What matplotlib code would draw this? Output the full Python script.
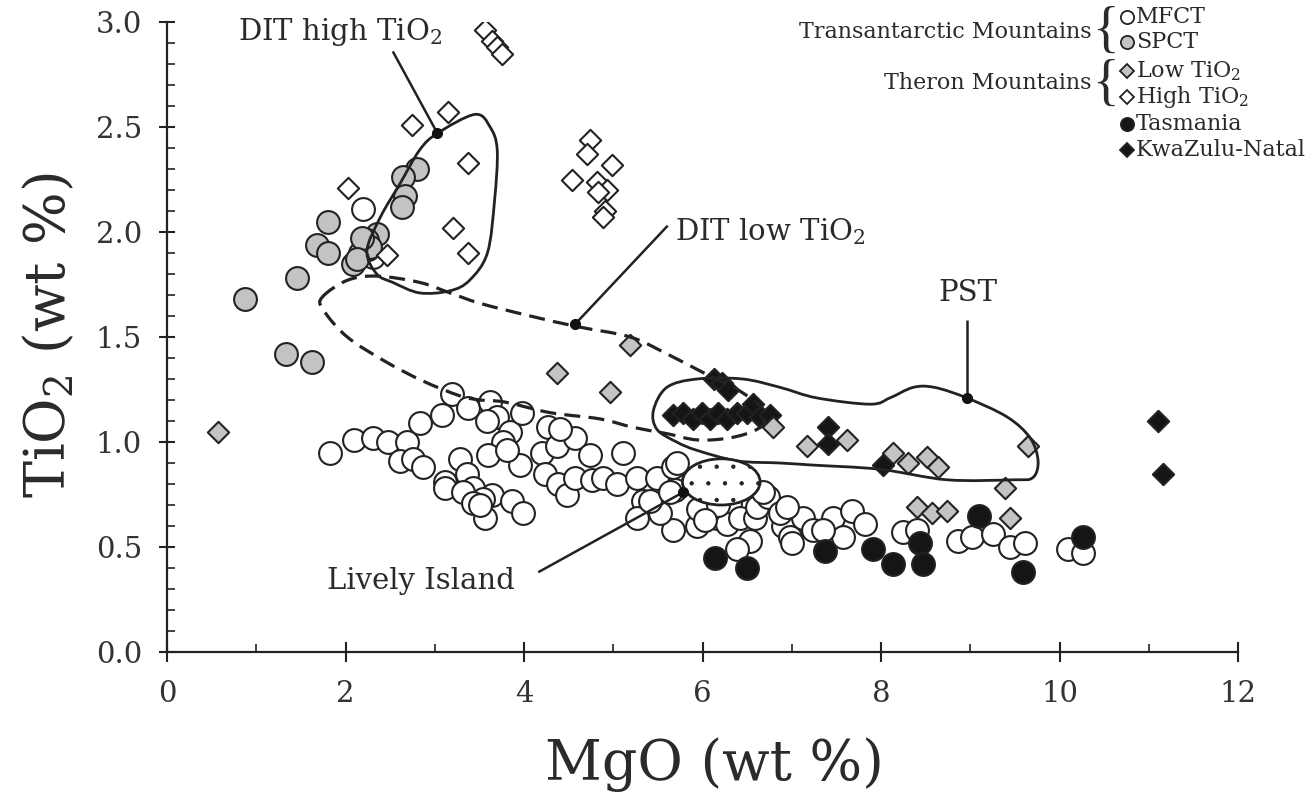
import numpy as np
import matplotlib
matplotlib.use("Agg")
import matplotlib.pyplot as plt
from matplotlib.path import Path
from matplotlib.patches import PathPatch, Ellipse
from matplotlib.lines import Line2D

plt.rcParams['font.family'] = ['DejaVu Serif']
plt.rcParams['mathtext.default'] = 'regular'
plt.rcParams['hatch.linewidth'] = 0.7
plt.rcParams['hatch.color'] = '#666666'

# ---------------- data (MgO, TiO2 in wt %) ----------------
mfct_mgo = [1.83, 2.10, 2.31, 2.48, 2.69, 2.61, 2.76, 2.87, 2.83, 3.08, 3.19, 3.37, 3.62, 3.70,
            3.84, 3.98, 3.59, 3.76, 3.60, 3.96, 3.28, 3.36, 3.11, 3.11, 3.43, 3.32, 3.64, 3.54,
            3.43, 3.56, 3.87, 3.99, 4.27, 4.20, 4.37, 4.57, 4.24, 4.38, 4.48, 4.57, 4.74, 4.76,
            4.89, 5.11, 5.04, 5.27, 5.49, 5.33, 5.27, 5.67, 5.69, 5.67, 5.52, 3.81, 3.51, 5.41,
            5.71, 5.64, 5.94, 5.95, 6.16, 6.31, 6.27, 6.42, 6.59, 6.61, 6.73, 6.68, 6.53, 6.90,
            6.87, 6.98, 7.13, 7.24, 7.46, 7.57, 7.68, 7.82, 6.39, 6.95, 7.00, 7.35, 8.25, 8.40,
            8.86, 9.02, 9.25, 9.45, 9.61, 10.10, 10.26, 2.20, 2.31, 2.25, 6.17, 6.03, 4.40]
mfct_tio2 = [0.95, 1.01, 1.02, 1.00, 1.00, 0.91, 0.92, 0.88, 1.09, 1.13, 1.23, 1.16, 1.19, 1.12,
             1.05, 1.14, 1.10, 1.00, 0.94, 0.89, 0.92, 0.85, 0.81, 0.78, 0.78, 0.76, 0.75, 0.73,
             0.71, 0.64, 0.72, 0.66, 1.07, 0.95, 0.98, 1.02, 0.85, 0.80, 0.75, 0.83, 0.94, 0.82,
             0.83, 0.95, 0.80, 0.83, 0.83, 0.72, 0.64, 0.88, 0.77, 0.58, 0.66, 0.96, 0.70, 0.72,
             0.90, 0.76, 0.60, 0.68, 0.64, 0.71, 0.61, 0.64, 0.64, 0.69, 0.74, 0.76, 0.53, 0.60,
             0.66, 0.55, 0.64, 0.58, 0.64, 0.55, 0.67, 0.61, 0.49, 0.69, 0.52, 0.58, 0.57, 0.58,
             0.53, 0.55, 0.56, 0.50, 0.52, 0.49, 0.47, 2.11, 1.88, 1.92, 0.70, 0.63, 1.06]

spct_mgo = [0.87, 1.46, 1.80, 1.68, 1.80, 1.33, 1.62, 2.08, 2.35, 2.24, 2.16, 2.80, 2.64, 2.67,
            2.63, 2.27, 2.18, 2.13]
spct_tio2 = [1.68, 1.78, 2.05, 1.94, 1.90, 1.42, 1.38, 1.85, 1.99, 1.96, 1.90, 2.30, 2.26, 2.17,
             2.12, 1.93, 1.97, 1.87]

theron_low_mgo = [0.57, 5.19, 4.37, 4.96, 6.79, 7.17, 7.62, 8.13, 8.30, 8.52, 8.64, 9.65, 9.39,
                  8.40, 8.57, 8.74, 9.45]
theron_low_tio2 = [1.05, 1.46, 1.33, 1.24, 1.07, 0.98, 1.01, 0.95, 0.90, 0.93, 0.88, 0.98, 0.78,
                   0.69, 0.66, 0.67, 0.64]

theron_high_mgo = [3.56, 3.64, 3.70, 3.75, 2.75, 3.15, 3.37, 3.20, 3.37, 2.46, 2.03, 4.74, 4.71,
                   4.99, 4.54, 4.82, 4.93, 4.83, 4.91, 4.89]
theron_high_tio2 = [2.96, 2.91, 2.88, 2.85, 2.51, 2.57, 2.33, 2.02, 1.90, 1.89, 2.21, 2.44, 2.37,
                    2.32, 2.25, 2.24, 2.20, 2.19, 2.10, 2.07]

tasmania_mgo = [6.14, 6.50, 7.37, 7.91, 8.13, 8.44, 8.47, 9.10, 9.59, 10.26]
tasmania_tio2 = [0.45, 0.40, 0.48, 0.49, 0.42, 0.52, 0.42, 0.65, 0.38, 0.55]

kzn_mgo = [5.67, 5.78, 5.89, 5.99, 6.08, 6.17, 6.27, 6.39, 6.50, 6.57, 6.64, 6.76, 6.13, 6.22,
           6.29, 7.41, 7.41, 8.02, 11.10, 11.16]
kzn_tio2 = [1.13, 1.14, 1.11, 1.14, 1.11, 1.14, 1.11, 1.14, 1.14, 1.18, 1.12, 1.13, 1.30, 1.28,
            1.25, 1.07, 0.99, 0.89, 1.10, 0.85]

# field outlines
dit_high_mgo = [3.03, 3.45, 3.62, 3.70, 3.67, 3.59, 3.39, 3.17, 2.83, 2.53, 2.35, 2.24, 2.39,
                2.61, 2.83]
dit_high_tio2 = [2.47, 2.56, 2.50, 2.39, 2.15, 1.90, 1.77, 1.72, 1.71, 1.76, 1.80, 1.91, 2.07,
                 2.23, 2.39]

dit_low_mgo = [1.74, 2.02, 2.35, 2.83, 3.17, 3.51, 4.07, 4.59, 5.19, 5.60, 6.01, 6.39, 6.65,
               6.72, 6.61, 6.31, 5.94, 5.60, 5.22, 4.85, 4.29, 3.79, 3.51, 3.28, 2.87, 2.46,
               2.02, 1.75]
dit_low_tio2 = [1.69, 1.77, 1.79, 1.76, 1.71, 1.66, 1.60, 1.55, 1.50, 1.42, 1.33, 1.25, 1.17,
                1.12, 1.06, 1.02, 1.01, 1.04, 1.07, 1.11, 1.14, 1.19, 1.20, 1.22, 1.29, 1.38,
                1.50, 1.63]

pst_mgo = [5.45, 5.60, 5.94, 6.45, 6.87, 7.28, 7.88, 8.10, 8.36, 8.60, 8.96, 9.41, 9.67, 9.76,
           9.70, 9.48, 8.74, 7.99, 7.24, 6.87, 6.39, 5.94, 5.71, 5.49]
pst_tio2 = [1.15, 1.26, 1.30, 1.30, 1.26, 1.21, 1.18, 1.21, 1.26, 1.26, 1.21, 1.12, 1.02, 0.91,
            0.83, 0.82, 0.82, 0.87, 0.89, 0.90, 0.91, 0.96, 1.00, 1.06]

lively_center = (6.21, 0.81)
lively_size = (0.87, 0.22)

# ---------------- figure ----------------
W, H = 1311, 798
fig = plt.figure(figsize=(W / 100, H / 100), dpi=100)
ax = fig.add_axes([167 / W, 1 - 652 / H, (1238 - 167) / W, (652 - 22) / H])
ax.set_xlim(0, 12)
ax.set_ylim(0, 3)

INK = '#222222'
GREY = '#c3c3c3'

for side in ('top', 'right'):
    ax.spines[side].set_visible(False)
for side in ('left', 'bottom'):
    ax.spines[side].set_linewidth(1.6)
    ax.spines[side].set_color(INK)
    ax.spines[side].set_zorder(1)

ax.set_xticks(np.arange(0, 13, 2))
ax.set_xticks(np.arange(1, 12, 2), minor=True)
ax.set_yticks(np.arange(0, 3.01, 0.5))
ax.set_yticks(np.arange(0, 3.01, 0.1), minor=True)
ax.yaxis.set_major_formatter(matplotlib.ticker.FormatStrFormatter('%.1f'))
ax.tick_params(axis='both', which='major', direction='inout', width=1.5, color=INK,
               labelsize=21, labelcolor='#333333')
ax.tick_params(axis='x', which='major', length=15, pad=13)
ax.tick_params(axis='y', which='major', length=12, pad=12)
ax.tick_params(axis='both', which='minor', direction='in', length=6, width=1.2, color=INK)

circ = dict(s=270, linewidths=1.5, edgecolors=INK, marker='o')
diam = dict(s=118, linewidths=1.5, edgecolors=INK, marker='D')

ax.scatter(mfct_mgo, mfct_tio2, facecolors='white', zorder=3, **circ)
ax.scatter(spct_mgo, spct_tio2, facecolors=GREY, zorder=3, **circ)
ax.scatter(theron_high_mgo, theron_high_tio2, facecolors='white', zorder=4, **diam)
ax.scatter(kzn_mgo, kzn_tio2, facecolors='#151515', zorder=4, **diam)
ax.scatter(theron_low_mgo, theron_low_tio2, facecolors=GREY, zorder=5, **diam)
ax.scatter(tasmania_mgo, tasmania_tio2, facecolors='#151515', zorder=5, **circ)


def smooth_closed(xs, ys):
    pts = np.column_stack([xs, ys])
    n = len(pts)
    verts = [pts[0]]
    codes = [Path.MOVETO]
    for i in range(n):
        p0, p1, p2, p3 = pts[i - 1], pts[i], pts[(i + 1) % n], pts[(i + 2) % n]
        verts += [p1 + (p2 - p0) / 6.0, p2 - (p3 - p1) / 6.0, p2]
        codes += [Path.CURVE4] * 3
    return Path(verts, codes)


ax.add_patch(PathPatch(smooth_closed(dit_high_mgo, dit_high_tio2), fill=False,
                       edgecolor=INK, lw=2.0, zorder=6))
ax.add_patch(PathPatch(smooth_closed(pst_mgo, pst_tio2), fill=False,
                       edgecolor=INK, lw=2.0, zorder=6))
ax.add_patch(PathPatch(smooth_closed(dit_low_mgo, dit_low_tio2), fill=False,
                       edgecolor=INK, lw=2.3, linestyle=(0, (5.0, 2.6)), zorder=6))
ax.add_patch(Ellipse(lively_center, lively_size[0], lively_size[1], facecolor='white',
                     edgecolor=INK, lw=2.0, hatch='.', zorder=7))

# labelled leaders
ann = dict(fontsize=21, color='#2a2a2a', zorder=8)


def leader(x0, y0, x1, y1):
    ax.plot([x0, x1], [y0, y1], color=INK, lw=1.8, zorder=8, solid_capstyle='butt')
    ax.plot([x1], [y1], 'o', ms=7, color='#111111', zorder=9)


ax.text(0.80, 2.95, 'DIT high TiO$_2$', ha='left', va='center', **ann)
leader(2.53, 2.86, 3.03, 2.47)
ax.text(5.69, 2.00, 'DIT low TiO$_2$', ha='left', va='center', **ann)
leader(5.61, 2.03, 4.57, 1.56)
ax.text(8.97, 1.71, 'PST', ha='center', va='center', **ann)
leader(8.96, 1.58, 8.96, 1.21)
ax.text(1.79, 0.34, 'Lively Island', ha='left', va='center', **ann)
leader(4.16, 0.38, 5.78, 0.76)

# axis titles
fig.text(714 / W, 1 - 765 / H, 'MgO (wt %)', ha='center', va='center', fontsize=40,
         color='#2a2a2a')
fig.text(50 / W, 1 - 335 / H, 'TiO$_2$ (wt %)', ha='center', va='center', fontsize=40,
         rotation=90, color='#2a2a2a')


# key
def fx(px):
    return px / W


def fy(py):
    return 1 - py / H


key_font = dict(fontsize=16, color='#2a2a2a', va='center')
fig.text(fx(1092), fy(32), 'Transantarctic Mountains', ha='right', **key_font)
fig.text(fx(1092), fy(83), 'Theron Mountains', ha='right', **key_font)
for cy in (33, 86):
    fig.text(fx(1106), fy(cy), '{', ha='center', va='center', fontsize=40,
             color='#2a2a2a', family='Liberation Serif', fontweight='light')

key_rows = [
    (17, 'o', 'white', 'MFCT'),
    (42, 'o', GREY, 'SPCT'),
    (71, 'D', GREY, 'Low TiO$_2$'),
    (97, 'D', 'white', 'High TiO$_2$'),
    (124, 'o', '#151515', 'Tasmania'),
    (150, 'D', '#151515', 'KwaZulu-Natal'),
]
for py, mk, fc, label in key_rows:
    ms = 9.5 if mk == 'o' else 7.0
    fig.add_artist(Line2D([fx(1127)], [fy(py)], marker=mk, ms=ms, mfc=fc, mec=INK, mew=1.3,
                          linestyle='none', transform=fig.transFigure))
    fig.text(fx(1136), fy(py), label, ha='left', **key_font)

fig.savefig('out.png', dpi=100, facecolor='white')
